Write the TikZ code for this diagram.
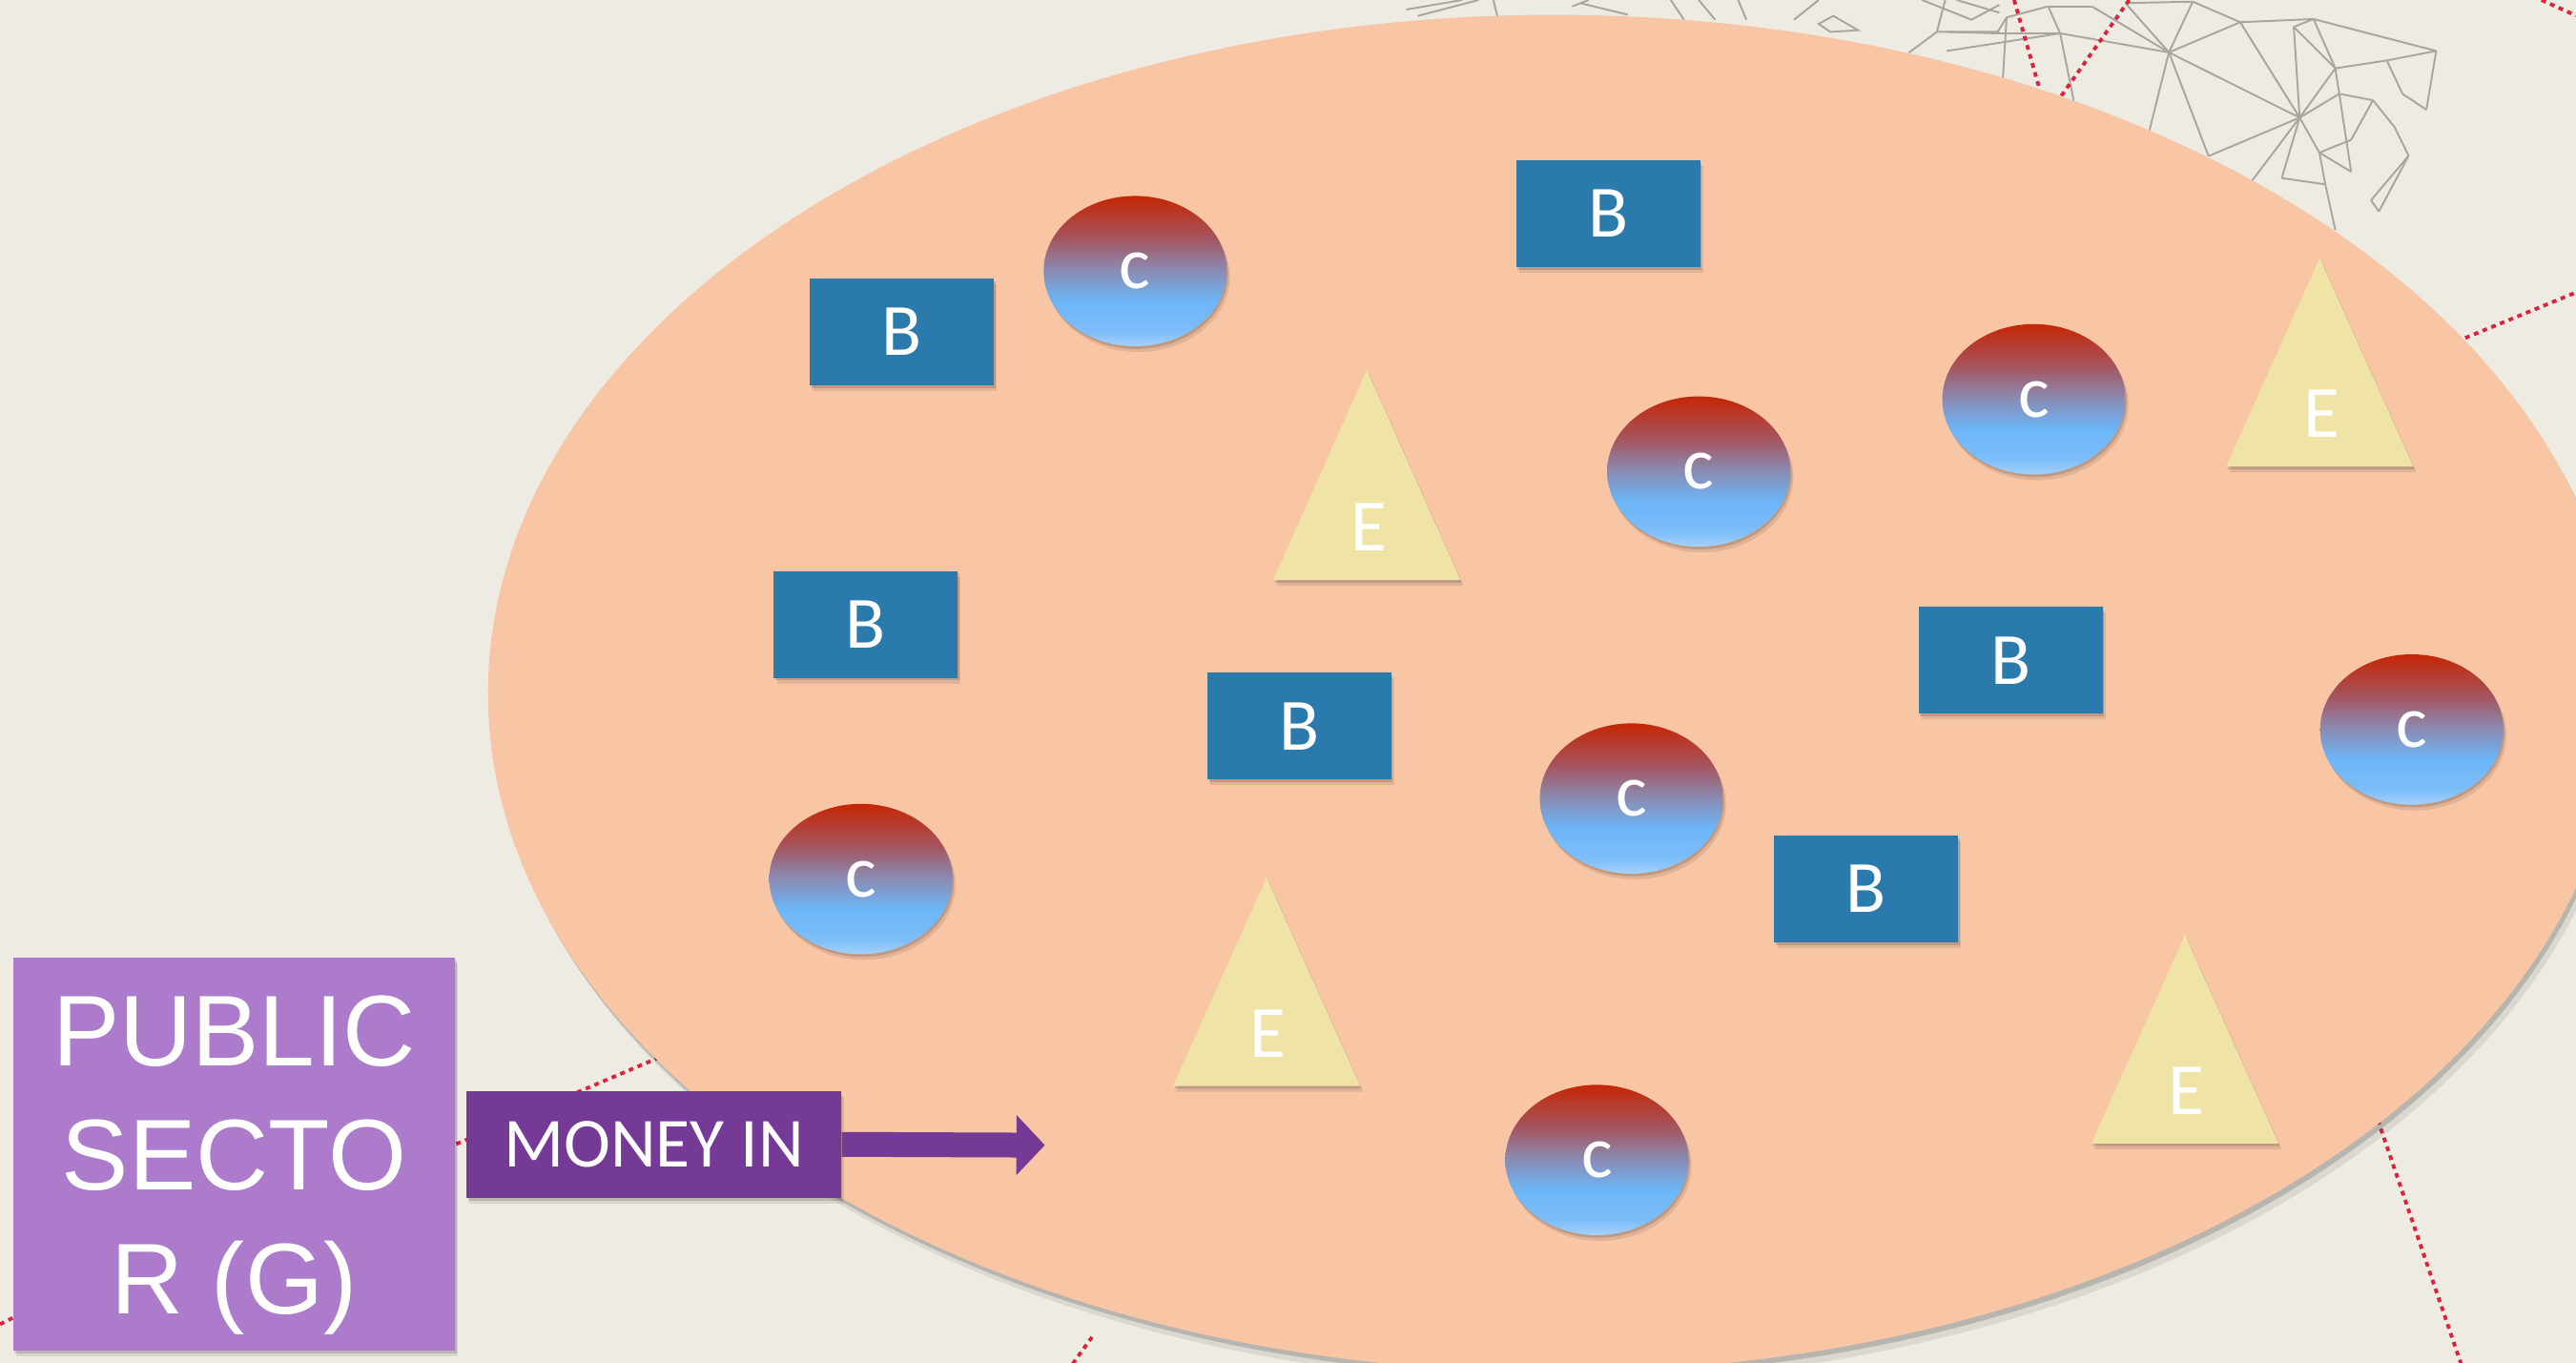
\documentclass[tikz,border=0pt]{standalone}
\usepackage{fontspec}
\setmainfont{Carlito}
\newfontfamily\arialf{Liberation Sans}
\usetikzlibrary{shapes.geometric,shadows,arrows.meta}

\definecolor{bgcol}{HTML}{EEEBE3}
\definecolor{orangefill}{HTML}{F8C5A5}
\definecolor{bblue}{HTML}{2A7AAC}
\definecolor{tyellow}{HTML}{F0E3A6}
\definecolor{pubpurple}{HTML}{AC7BCB}
\definecolor{moneypurple}{HTML}{753A96}
\definecolor{wiregray}{HTML}{A9A6A1}
\definecolor{reddot}{HTML}{D8243F}
\definecolor{cg1}{HTML}{C52605}
\definecolor{cg2}{HTML}{A5545E}
\definecolor{cg3}{HTML}{8C88AE}
\definecolor{cg4}{HTML}{6CB6F8}
\definecolor{cg5}{HTML}{7DBDF9}
\definecolor{cg6}{HTML}{A4D2FB}

\pgfdeclareverticalshading{cshade}{100bp}{color(0bp)=(cg6); color(25bp)=(cg6); color(30bp)=(cg5); color(40bp)=(cg4); color(51bp)=(cg3); color(61bp)=(cg2); color(75bp)=(cg1); color(100bp)=(cg1)}

\tikzset{
  softshadow/.style={
    drop shadow={shadow xshift=0.4pt, shadow yshift=-0.8pt, opacity=0.14, fill=black},
    drop shadow={shadow xshift=0.9pt, shadow yshift=-1.7pt, opacity=0.09, fill=black}},
  lbl/.style={text=white, font=\fontsize{22}{26}\selectfont},
  bbox/.style={rectangle, fill=bblue, minimum width=1.929cm, minimum height=1.12cm, inner sep=0pt, lbl, softshadow},
  cnode/.style={ellipse, shading=cshade, minimum width=1.921cm, minimum height=1.576cm, inner sep=0pt, lbl, softshadow},
  tri/.style={fill=tyellow, softshadow},
  wire/.style={draw=wiregray, line width=0.55pt},
  reddash/.style={draw=reddot, line width=1.1pt, dash pattern=on 1.4pt off 1.4pt},
}

\begin{document}
\begin{tikzpicture}[x=0.017226cm, y=-0.017226cm]
  % background
  \fill[bgcol] (0,0) rectangle (1568,829.57);
  \useasboundingbox (0,0) rectangle (1568,829.57);

  % wireframe network (background)
  \coordinate (P1) at (1221.4,10.6);
  \coordinate (P2) at (1215.4,20.3);
  \coordinate (P3) at (1246.7,3.9);
  \coordinate (P4) at (1254,20.3);
  \coordinate (P5) at (1273.3,3.9);
  \coordinate (P6) at (1293.7,1.9);
  \coordinate (P7) at (1334.7,1);
  \coordinate (P8) at (1320.2,31.9);
  \coordinate (P9) at (1363.6,13.5);
  \coordinate (P10) at (1408.2,11.6);
  \coordinate (P11) at (1482.9,31);
  \coordinate (P12) at (1452.8,36.8);
  \coordinate (P13) at (1421.5,41.6);
  \coordinate (P14) at (1476.9,66.8);
  \coordinate (P15) at (1462.4,57.1);
  \coordinate (P16) at (1396.2,16.4);
  \coordinate (P17) at (1399.8,71.6);
  \coordinate (P18) at (1423.9,57.1);
  \coordinate (P19) at (1444.4,61);
  \coordinate (P20) at (1457.6,77.4);
  \coordinate (P21) at (1466.1,94.8);
  \coordinate (P22) at (1443.2,121.9);
  \coordinate (P23) at (1448,128.7);
  \coordinate (P24) at (1411.8,92.9);
  \coordinate (P25) at (1431.1,85.1);
  \coordinate (P26) at (1431.1,104.5);
  \coordinate (P27) at (1388.9,108.4);
  \coordinate (P28) at (1415.4,112.2);
  \coordinate (P29) at (1421.5,140);
  \coordinate (P30) at (1370.8,110);
  \coordinate (P31) at (1344.3,95);
  \coordinate (P32) at (1308.2,80);
  \coordinate (P33) at (1262.4,62);
  \coordinate (P34) at (1219,50);
  \coordinate (P35) at (1185,19.4);
  \coordinate (P36) at (1185,31);
  \foreach \u/\v in {P35/P2, P2/P1, P1/P34, P36/P4, P2/P4, P3/P4, P4/P33,
      P5/P8, P6/P8, P4/P8, P8/P7, P8/P9, P8/P32, P8/P31, P8/P17, P7/P9,
      P9/P10, P9/P17, P16/P17, P10/P16, P10/P11, P16/P13, P10/P13, P13/P12,
      P12/P11, P11/P14, P14/P15, P15/P12, P13/P18, P13/P17, P18/P17, P18/P19,
      P19/P20, P20/P21, P21/P22, P22/P23, P23/P21, P18/P26, P17/P24, P24/P26,
      P24/P25, P25/P19, P17/P30, P17/P27, P24/P28, P28/P29, P27/P28, P17/P31,
      P6/P7, P3/P5, P1/P3}
    \draw[wire] (\u) -- (\v);
  % wireframe fragments further left along the top
  \draw[wire] (856,5.8) -- (890,0);
  \draw[wire] (863,9.7) -- (900,0);
  \draw[wire] (909,0) -- (912,12);
  \draw[wire] (957,3.9) -- (967,0);
  \draw[wire] (962,1.9) -- (991,9);
  \draw[wire] (1017,0) -- (1025,12);
  \draw[wire] (1034,0) -- (1044,12);
  \draw[wire] (1058,0) -- (1063,12);
  \draw[wire] (1092,12) -- (1107,0);
  \draw[wire] (1107,14.5) -- (1116,9.7) -- (1131,18.4) -- (1114,19.4) -- cycle;
  \draw[wire] (1162,32) -- (1179,19.4) -- (1217,19.4);
  \draw[wire] (1179,19.4) -- (1184,0);
  \draw[wire] (1191,0) -- (1217,7.7);
  \draw[wire] (1170,0) -- (1200,12) -- (1217,3);

  % red dotted connectors of the background network
  \draw[reddash] (1226,0) -- (1246,70);
  \draw[reddash] (1296,0) -- (1250,65);
  \draw[reddash] (1547,0) -- (1568,9.5);
  \draw[reddash] (1490,210) -- (1568,178);
  \draw[reddash] (1440,660) -- (1498,830);
  \draw[reddash] (262,703) -- (412,639);
  \draw[reddash] (0,806) -- (20,796);
  \draw[reddash] (653,830) -- (666,812);

  % big market ellipse
  \fill[orangefill,
        drop shadow={shadow xshift=0.8pt, shadow yshift=-1.5pt, opacity=0.16, fill=black},
        drop shadow={shadow xshift=1.8pt, shadow yshift=-3.2pt, opacity=0.08, fill=black}]
    (946,422) ellipse [x radius=11.179cm, y radius=7.114cm];

  % triangles (E)
  \path[tri] (832,225) -- (889,353) -- (775,353) -- cycle;
  \path[tri] (1412,157) -- (1469,284) -- (1355,284) -- cycle;
  \path[tri] (771,534) -- (828,661) -- (714,661) -- cycle;
  \path[tri] (1330,569) -- (1387,696) -- (1273,696) -- cycle;
  \node[lbl] (e1) at (833,321) {E};
  \node[lbl] (e2) at (1413,252) {E};
  \node[lbl] (e3) at (772,629) {E};
  \node[lbl] (e4) at (1331,664) {E};

  % B boxes
  \node[bbox] (b1) at (549,202) {B};
  \node[bbox] (b2) at (979,130) {B};
  \node[bbox] (b3) at (527,380) {B};
  \node[bbox] (b4) at (791,442) {B};
  \node[bbox] (b5) at (1224,402) {B};
  \node[bbox] (b6) at (1136,541) {B};

  % c ellipses
  \node[cnode] (c1) at (691,165) {c};
  \node[cnode] (c2) at (1034,287) {c};
  \node[cnode] (c3) at (1238,243) {c};
  \node[cnode] (c4) at (1468,444) {c};
  \node[cnode] (c5) at (993,486) {c};
  \node[cnode] (c6) at (524,535) {c};
  \node[cnode] (c7) at (972,706) {c};

  % public sector
  \node[fill=pubpurple, minimum width=4.634cm, minimum height=4.117cm, inner sep=0pt,
        softshadow] (ps) at (142.5,702.5) {};
  \node[text=white, align=center, inner sep=0pt,
        font=\arialf\fontsize{30}{37}\selectfont] (pstext) at (142.5,709) {PUBLIC\\SECTO\\R (G)};

  % money in
  \node[fill=moneypurple, minimum width=3.928cm, minimum height=1.12cm, inner sep=0pt,
        text=white, softshadow, font=\fontsize{21}{25}\selectfont] (money) at (398,696.5) {MONEY IN};
  \coordinate (tip) at (636,697);
  \draw[draw=moneypurple, line width=7.4pt, -{Triangle[length=8.5pt, width=17.5pt]}] (money.east) -- (tip);
\end{tikzpicture}
\end{document}
